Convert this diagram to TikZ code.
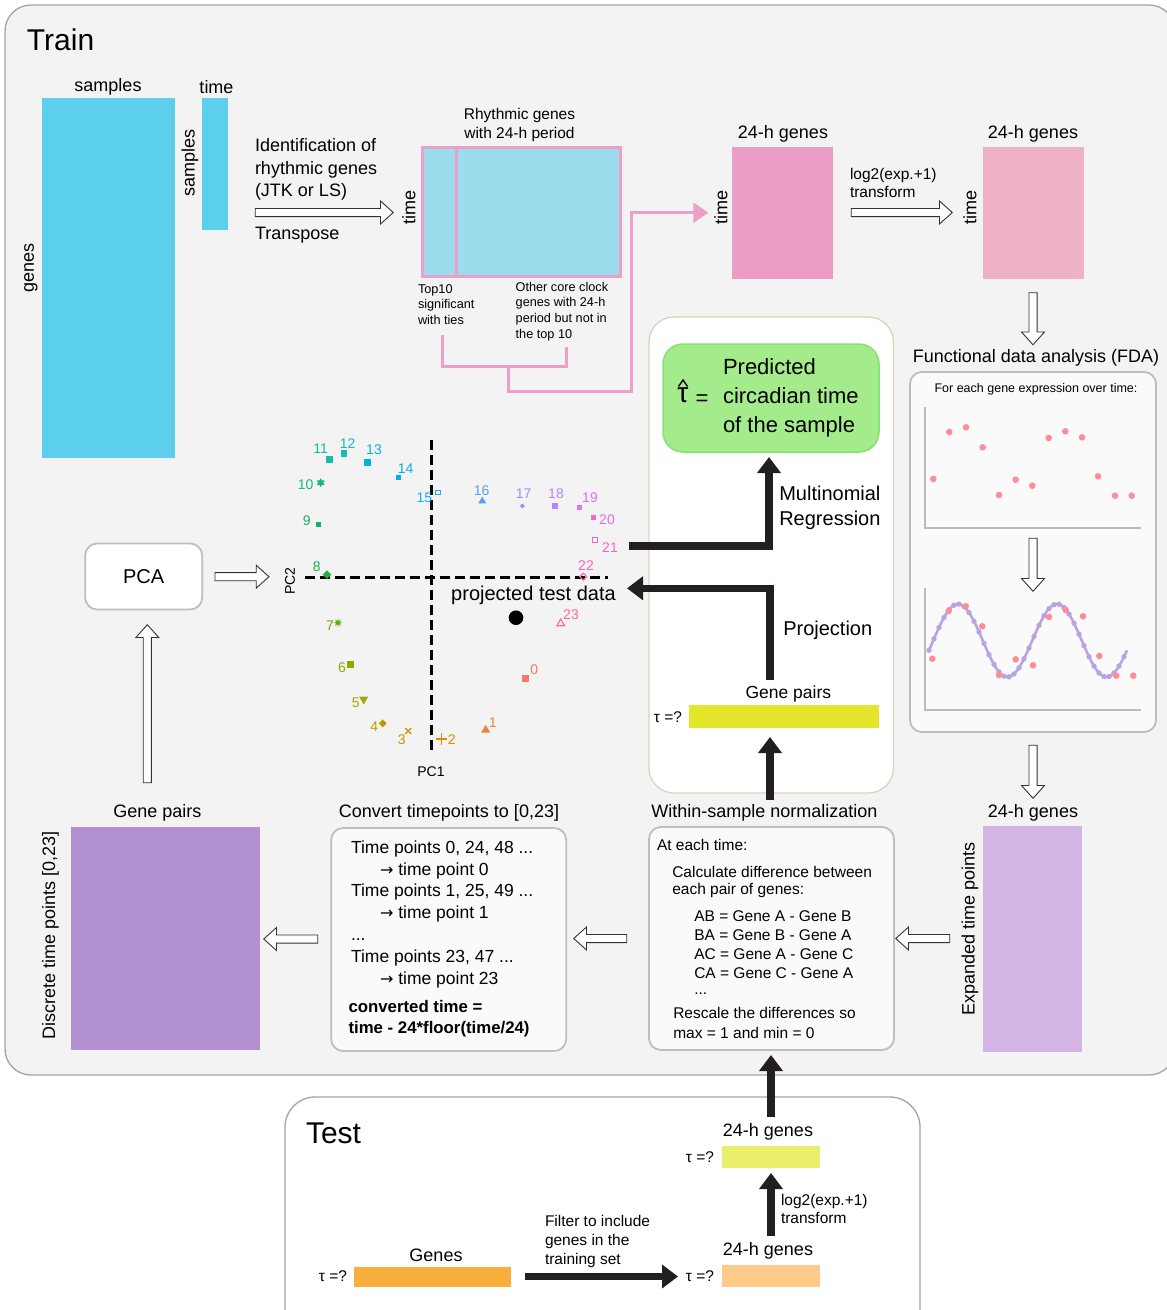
\documentclass[tikz,border=0pt]{standalone}
\usepackage{fontspec}
\setmainfont{Liberation Sans}
\newfontfamily\arrowfont{DejaVu Sans}
\usetikzlibrary{arrows.meta,shapes.arrows,shapes.geometric,shapes.misc}
\definecolor{panelbg}{HTML}{F3F3F3}
\definecolor{panelbd}{HTML}{A3A3A3}
\definecolor{boxbg}{HTML}{FAFAFA}
\definecolor{boxbd}{HTML}{BEBEBE}
\definecolor{cyanbar}{HTML}{5BCFEC}
\definecolor{rhyfill}{HTML}{9BDDEC}
\definecolor{pinkln}{HTML}{ECA0C7}
\definecolor{pinkA}{HTML}{EC9DC5}
\definecolor{pinkB}{HTML}{EFB1C4}
\definecolor{lavA}{HTML}{D2B5E5}
\definecolor{purA}{HTML}{B290D1}
\definecolor{greenfill}{HTML}{A4EB8B}
\definecolor{greenbd}{HTML}{86E26F}
\definecolor{tanbd}{HTML}{DDD1BD}
\definecolor{yelA}{HTML}{E2E52A}
\definecolor{yelB}{HTML}{EBEE6B}
\definecolor{orA}{HTML}{F9AF3E}
\definecolor{orB}{HTML}{FECB8B}
\definecolor{arrblk}{HTML}{231F20}
\definecolor{dotpink}{HTML}{FF8C96}
\definecolor{curvepur}{HTML}{B9A3E3}
\definecolor{axisgray}{HTML}{BBBBBB}
\definecolor{c0}{HTML}{F8766D}
\definecolor{c1}{HTML}{EE7F3C}
\definecolor{c2}{HTML}{E08B00}
\definecolor{c3}{HTML}{CF9400}
\definecolor{c4}{HTML}{BD9C00}
\definecolor{c5}{HTML}{A8A400}
\definecolor{c6}{HTML}{8AAB00}
\definecolor{c7}{HTML}{5BB300}
\definecolor{c8}{HTML}{1DB33F}
\definecolor{c9}{HTML}{12B565}
\definecolor{c10}{HTML}{12B98A}
\definecolor{c11}{HTML}{1BBCA6}
\definecolor{c12}{HTML}{14BBBE}
\definecolor{c13}{HTML}{00B6D8}
\definecolor{c14}{HTML}{00AFEE}
\definecolor{c15}{HTML}{1AA8F8}
\definecolor{c16}{HTML}{5F9BF5}
\definecolor{c17}{HTML}{9590FF}
\definecolor{c18}{HTML}{BD82FF}
\definecolor{c19}{HTML}{DC72F5}
\definecolor{c20}{HTML}{F066E0}
\definecolor{c21}{HTML}{FD61C9}
\definecolor{c22}{HTML}{FF62B2}
\definecolor{c23}{HTML}{FF6A97}
\begin{document}
\begin{tikzpicture}[x=1pt,y=-1pt,
  every node/.style={inner sep=0pt,outer sep=0pt},
  f30/.style={font=\fontsize{30}{36}\selectfont},
  f22/.style={font=\fontsize{22}{29}\selectfont},
  f20/.style={font=\fontsize{20}{25}\selectfont},
  f18/.style={font=\fontsize{18}{22.5}\selectfont},
  f17/.style={font=\fontsize{17.5}{22}\selectfont},
  f15/.style={font=\fontsize{15.5}{19}\selectfont},
  f15b/.style={font=\fontsize{15.5}{18}\selectfont},
  f14/.style={font=\fontsize{14}{17}\selectfont},
  f13/.style={font=\fontsize{12.7}{15.8}\selectfont},
  f12/.style={font=\fontsize{12.5}{15}\selectfont},
  roundbox/.style={draw=boxbd, fill=boxbg, line width=1.8pt, rounded corners=12pt},
  openarr/.style={single arrow, draw=black!80, fill=white, line width=0.9pt, inner xsep=0pt, inner ysep=3.6pt, minimum width=22pt, single arrow head extend=7.4pt, single arrow tip angle=84},
  thickarr/.style={draw=arrblk, line width=7.5pt, -{Triangle[width=23pt,length=16pt]}},
  pinkpath/.style={draw=pinkln, line width=3pt},
  msq/.style={fill, rectangle, minimum size=#1},
  mtri/.style={fill, regular polygon, regular polygon sides=3, minimum size=#1},
  mdtri/.style={fill, regular polygon, regular polygon sides=3, shape border rotate=180, minimum size=#1},
  mdia/.style={fill, diamond, minimum size=#1},
  mplus/.style={draw, cross out, line width=1.3pt, rotate=45, minimum size=#1},
  mx/.style={draw, cross out, line width=1.3pt, minimum size=#1},
  mast/.style={fill, star, star points=8, star point ratio=2.5, minimum size=#1},
  mhex/.style={fill, star, star points=6, star point ratio=1.73, minimum size=#1},
  mxsq/.style={draw, rectangle, line width=0.8pt, minimum size=#1},
  mosq/.style={draw, rectangle, line width=1.1pt, minimum size=#1},
  modia/.style={draw, diamond, line width=1.1pt, minimum size=#1},
  motri/.style={draw, regular polygon, regular polygon sides=3, line width=1.1pt, minimum size=#1},
]
\useasboundingbox (0,0) rectangle (1167,1310);
\fill[white] (0,0) rectangle (1167,1310);
% ---------- Train panel
\draw[fill=panelbg, draw=panelbd, line width=1.3pt, rounded corners=26pt] (5,5) rectangle (1175,1075);
\node[f30, anchor=west] (trainlbl) at (27,40) {Train};

% raw data
\node[fill=cyanbar, minimum width=133, minimum height=360] (rawbig) at (108.5,278) {};
\node[f18] (rawbigtop) at (108,87) {samples};
\node[f18, rotate=90] (rawbigside) at (31,268) {genes};
\node[fill=cyanbar, minimum width=26, minimum height=132] (rawsmall) at (215,164) {};
\node[f18] (rawsmalltop) at (216.5,87) {time};
\node[f18, rotate=90] (rawsmallside) at (190,163) {samples};

\node[openarr, minimum height=138] (arrT) at (322,212.5) {};
\node[f18, anchor=west, align=left] (identlbl) at (255,169.7) {Identification of\\rhythmic genes\\(JTK or LS)};
\node[f18, anchor=west] (transplbl) at (255,235.5) {Transpose};

% rhythmic genes matrix
\node[fill=rhyfill, draw=pinkln, line width=3pt, minimum width=198, minimum height=129] (rhy) at (521.7,212.2) {};
\draw[pinkln, line width=3pt] (456.7,147.7) -- (456.7,276.7);
\node[f15, align=center] (rhytitle) at (519.5,124.5) {Rhythmic genes\\with 24-h period};
\node[f18, rotate=90] (rhyside) at (409,207) {time};
\node[f13, anchor=west, align=left] (top10) at (418,304.5) {Top10\\significant\\with ties};
\node[f13, anchor=west, align=left] (othercc) at (515.7,311.5) {Other core clock\\genes with 24-h\\period but not in\\the top 10};
\coordinate (brA) at (442.7,335);
\coordinate (brB) at (566.7,347.3);
\coordinate (brM) at (508.3,366.7);
\draw[pinkpath] (brA) |- (brB |- brM) -- (brB);
\node[fill=pinkA, minimum width=101, minimum height=132] (pinkone) at (782.8,212.7) {};
\draw[pinkpath, -{Triangle[width=20pt,length=15pt]}] (brM) |- (631.7,391) |- ([xshift=-24pt]pinkone.west);
\node[f18] (pinkonetop) at (783,133.5) {24-h genes};
\node[f18, rotate=90] (pinkoneside) at (721,207) {time};

\node[openarr, minimum height=101] (arrL) at (899.5,212.5) {};
\node[f15b, anchor=west, align=left] (logtop) at (850,182.8) {log2(exp.+1)\\transform};
\node[fill=pinkB, minimum width=101, minimum height=132] (pinktwo) at (1033,212.7) {};
\node[f18] (pinktwotop) at (1033,133.5) {24-h genes};
\node[f18, rotate=90] (pinktwoside) at (970,207) {time};

\node[openarr, minimum height=52, rotate=-90] (arrD1) at (1033,316.5) {};

% FDA
\node[f18] (fdalbl) at (1036,358) {Functional data analysis (FDA)};
\node[roundbox, minimum width=246, minimum height=360] (fdabox) at (1033,552) {};
\node[f12] (fdatxt) at (1036,389.5) {For each gene expression over time:};
\draw[axisgray, line width=1.8pt] (925,407) -- (925,528) -- (1141,528);
\foreach \px/\py in {933.3/479,949.3/432,966/427.3,982.7/447.3,999/495,1015.7/479.7,1032.3/485.7,1048.7/438,1065.3/431.3,1082/437.3,1098/476.3,1115/495.7,1131.7/495.7}
  \fill[dotpink] (\px,\py) circle (3.3);
\node[openarr, minimum height=53, rotate=-90] (arrD2) at (1033,562.5) {};
\draw[axisgray, line width=1.8pt] (925,588) -- (925,710) -- (1141,710);
\draw[curvepur, line width=2.6pt] plot[domain=0:198, samples=120] ({929+\x},{640.5-36.5*cos(3.63636*(\x-29))});
\foreach \px in {0,5,...,198}
  \fill[curvepur] ({929+\px},{640.5-36.5*cos(3.63636*(\px-29))}) circle (2.7);
\foreach \px/\py in {932.3/658.7,948.7/611,965.7/606.3,982.3/626.3,999/675,1015.7/659.3,1033/665.3,1049/617,1065.7/610,1083/616.3,1099.3/656,1116.3/675.7,1133.3/675.7}
  \fill[dotpink] (\px,\py) circle (3.3);

\node[openarr, minimum height=53, rotate=-90] (arrD3) at (1033,769.5) {};

% expanded
\node[fill=lavA, minimum width=99, minimum height=226] (expanded) at (1032.7,938.7) {};
\node[f18] (expandedtop) at (1033,813.3) {24-h genes};
\node[f18, rotate=90] (expandedside) at (970,929) {Expanded time points};
\node[openarr, minimum height=54, rotate=180] (arrW1) at (925,938.5) {};

% within-sample normalization
\node[roundbox, minimum width=245, minimum height=223] (wsn) at (771.5,938.5) {};
\node[f18] (wsnlbl) at (764.5,813.3) {Within-sample normalization};
\node[f15, anchor=west] (w1) at (657,845) {At each time:};
\node[f15, anchor=west] (w2) at (672.3,871.7) {Calculate difference between};
\node[f15, anchor=west] (w3) at (672.3,890.5) {each pair of genes:};
\node[f15, anchor=west] (w4) at (694.3,916) {AB = Gene A - Gene B};
\node[f15, anchor=west] (w5) at (694.3,935) {BA = Gene B - Gene A};
\node[f15, anchor=west] (w6) at (694.3,954) {AC = Gene A - Gene C};
\node[f15, anchor=west] (w7) at (694.3,973) {CA = Gene C - Gene A};
\node[f15, anchor=west] (w8) at (694.3,994) {...};
\node[f15, anchor=west] (w9) at (673.3,1013.3) {Rescale the differences so};
\node[f15, anchor=west] (w10) at (673.3,1032.8) {max = 1 and min = 0};
\node[openarr, minimum height=53, rotate=180] (arrW2) at (602.5,938.5) {};

% convert
\node[roundbox, minimum width=235, minimum height=223] (conv) at (448.7,939.5) {};
\node[f18] (convlbl) at (449,813.3) {Convert timepoints to [0,23]};
\node[f17, anchor=west] (cv1) at (351,849) {Time points 0, 24, 48 ...};
\node[f17, anchor=west] (cv2) at (380,870.5) {{\arrowfont\fontsize{16}{20}\selectfont →} time point 0};
\node[f17, anchor=west] (cv3) at (351,892) {Time points 1, 25, 49 ...};
\node[f17, anchor=west] (cv4) at (380,913.8) {{\arrowfont\fontsize{16}{20}\selectfont →} time point 1};
\node[f17, anchor=west] (cv5) at (351,939.5) {...};
\node[f17, anchor=west] (cv6) at (351,958) {Time points 23, 47 ...};
\node[f17, anchor=west] (cv7) at (380,979.5) {{\arrowfont\fontsize{16}{20}\selectfont →} time point 23};
\node[anchor=west, font=\fontsize{16.8}{21}\selectfont\bfseries] (cv8) at (348.5,1006) {converted time =};
\node[anchor=west, font=\fontsize{16.8}{21}\selectfont\bfseries] (cv9) at (348.5,1029) {time - 24*floor(time/24)};
\node[openarr, minimum height=54, rotate=180] (arrW3) at (293,939) {};

% gene pairs
\node[fill=purA, minimum width=189, minimum height=223] (gp) at (165,938.7) {};
\node[f18] (gptop) at (157.3,813.3) {Gene pairs};
\node[f18, rotate=90] (gpside) at (50.5,935) {Discrete time points [0,23]};
\node[openarr, minimum height=158, rotate=90] (arrU) at (147.3,706) {};

% PCA
\node[draw=boxbd, fill=white, line width=1.8pt, rounded corners=12pt, minimum width=117, minimum height=66, font=\fontsize{20}{24}\selectfont] (pca) at (143.7,576.5) {PCA};
\node[openarr, minimum height=54] (arrP) at (239.7,576.7) {};

% scatter
\draw[line width=2.5pt, dash pattern=on 10pt off 5pt] (305,577.7) -- (608.3,577.7);
\draw[line width=2.5pt, dash pattern=on 10pt off 5pt] (431.7,440) -- (431.7,751.7);
\node[f14, rotate=90] (pc2) at (290,581) {PC2};
\node[f14] (pc1) at (431,772) {PC1};
\node[msq=6.5, color=c0] (p0) at (525.3,678.7) {};
\node[mtri=10.5, color=c1] (p1) at (485.7,730) {};
\node[mplus=8, color=c2] (p2) at (441.7,739) {};
\node[mx=6, color=c3] (p3) at (408.3,731) {};
\node[mdia=8, color=c4] (p4) at (382.7,723.3) {};
\node[mdtri=10.5, color=c5] (p5) at (363.7,699.3) {};
\node[msq=7, color=c6] (p6) at (350,664.3) {};
\node[mast=9, color=c7] (p7) at (338,622.7) {};
\node[mdia=8.5, color=c8] (p8) at (327,574.5) {};
\node[msq=5.5, color=c9] (p9) at (318.3,524.3) {};
\node[mhex=9, color=c10] (p10) at (320.7,482.7) {};
\node[msq=7, color=c11] (p11) at (329,459) {};
\node[msq=6.5, color=c12] (p12) at (344,453.3) {};
\node[msq=6.5, color=c13] (p13) at (367.7,462.3) {};
\node[msq=5.5, color=c14] (p14) at (398.3,477.3) {};
\node[mxsq=4.5, color=c15] (p15) at (437.7,492.3) {};
\node[mtri=9, color=c16] (p16) at (482.3,501) {};
\node[mdia=5, color=c17] (p17) at (522.3,506) {};
\node[msq=6, color=c18] (p18) at (554.7,505.7) {};
\node[msq=4.5, color=c19] (p19) at (579.7,507.7) {};
\node[msq=5.5, color=c20] (p20) at (593.3,517.3) {};
\node[mosq=5, color=c21] (p21) at (595.3,540.3) {};
\node[modia=7, color=c22] (p22) at (583.3,576.7) {};
\node[motri=9, color=c23] (p23) at (560.7,623.5) {};
\node[f14, text=c0] (l0) at (534.3,670) {0};
\node[f14, text=c1] (l1) at (492.7,722.7) {1};
\node[f14, text=c2] (l2) at (451.7,740) {2};
\node[f14, text=c3] (l3) at (401.7,740) {3};
\node[f14, text=c4] (l4) at (374.3,726.7) {4};
\node[f14, text=c5] (l5) at (355.7,702.7) {5};
\node[f14, text=c6] (l6) at (342,668) {6};
\node[f14, text=c7] (l7) at (330,626) {7};
\node[f14, text=c8] (l8) at (316.7,566.7) {8};
\node[f14, text=c9] (l9) at (306.7,520.7) {9};
\node[f14, text=c10] (l10) at (305.7,485) {10};
\node[f14, text=c11] (l11) at (320.7,449) {11};
\node[f14, text=c12] (l12) at (347.7,444) {12};
\node[f14, text=c13] (l13) at (374,450) {13};
\node[f14, text=c14] (l14) at (405.7,469) {14};
\node[f14, text=c15] (l15) at (424.3,498) {15};
\node[f14, text=c16] (l16) at (481.7,491) {16};
\node[f14, text=c17] (l17) at (523.7,493.3) {17};
\node[f14, text=c18] (l18) at (556,494) {18};
\node[f14, text=c19] (l19) at (590,497.3) {19};
\node[f14, text=c20] (l20) at (607,519.3) {20};
\node[f14, text=c21] (l21) at (610,547.3) {21};
\node[f14, text=c22] (l22) at (586,566) {22};
\node[f14, text=c23] (l23) at (571,615) {23};
\node[circle, fill=black, minimum size=14.6] (testpt) at (516,617.7) {};
\node[f20] (projlbl) at (533.5,595.5) {projected test data};

% prediction panel
\draw[fill=white, draw=tanbd, line width=1.3pt, rounded corners=25pt] (649,317) rectangle (893.5,793);
\node[draw=greenbd, fill=greenfill, line width=1.5pt, rounded corners=20pt, minimum width=216, minimum height=108] (pred) at (771,398) {};
\node[f22, anchor=west, align=left] (predtxt) at (723,398.3) {Predicted\\circadian time\\of the sample};
\node[font=\fontsize{28}{30}\selectfont] (tauhat) at (683,395) {τ};
\draw[line width=1.4pt] (678.5,386.5) -- (683,380) -- (687.5,386.5);
\node[f22] (predeq) at (702,400) {=};
\node[f20, anchor=west, align=left] (mrlbl) at (779.3,507.5) {Multinomial\\Regression};
\node[f20, anchor=west] (projtxt) at (783.3,630.7) {Projection};
\node[f17] (gplbl) at (788.3,694) {Gene pairs};
\node[fill=yelA, minimum width=190, minimum height=23] (gpbar) at (784.2,716.7) {};
\node[f15] (gptau) at (668,717) {τ =?};
\coordinate (mrstart) at (629,546);
\coordinate (projstart) at (770,680);
\coordinate (projtip) at (627,588.3);
\draw[thickarr] (mrstart) -| ([xshift=-2pt,yshift=-5pt]pred.south);
\draw[thickarr] (projstart) |- (projtip);
\coordinate (wsnarr) at (770,800);
\coordinate (gpbartip) at (770,737);
\draw[thickarr] (wsnarr) -- (gpbartip);

% ---------- Test panel
\draw[fill=white, draw=panelbd, line width=1.3pt, rounded corners=30pt] (285,1097) rectangle (920,1345);
\node[f30, anchor=west] (testlbl) at (306,1133) {Test};
\node[f18] (t24top) at (768,1132) {24-h genes};
\node[fill=yelB, minimum width=98, minimum height=22] (tbar1) at (771,1157) {};
\node[f15] (ttau1) at (700,1157) {τ =?};
\node[f18] (t24bot) at (768,1251) {24-h genes};
\node[fill=orB, minimum width=98, minimum height=22] (tbar2) at (771,1276) {};
\node[f15] (ttau2) at (700,1276) {τ =?};
\node[f18] (tgenes) at (436,1255) {Genes};
\node[fill=orA, minimum width=157, minimum height=20] (tbar3) at (432.5,1277) {};
\node[f15] (ttau3) at (333,1276) {τ =?};
\node[f15, anchor=west, align=left] (filterlbl) at (545,1241.5) {Filter to include\\genes in the\\training set};
\node[f15b, anchor=west, align=left] (tlog) at (781,1208.5) {log2(exp.+1)\\transform};
\coordinate (tstart) at (771,1117);
\coordinate (wsntip) at (771,1055);
\draw[thickarr] (tstart) -- (wsntip);
\coordinate (logstart) at (771,1236);
\coordinate (logtip) at (771,1173);
\draw[thickarr] (logstart) -- (logtip);
\coordinate (filtstart) at (525,1276.5);
\coordinate (filttip) at (678,1276.5);
\draw[thickarr] (filtstart) -- (filttip);
\end{tikzpicture}
\end{document}
